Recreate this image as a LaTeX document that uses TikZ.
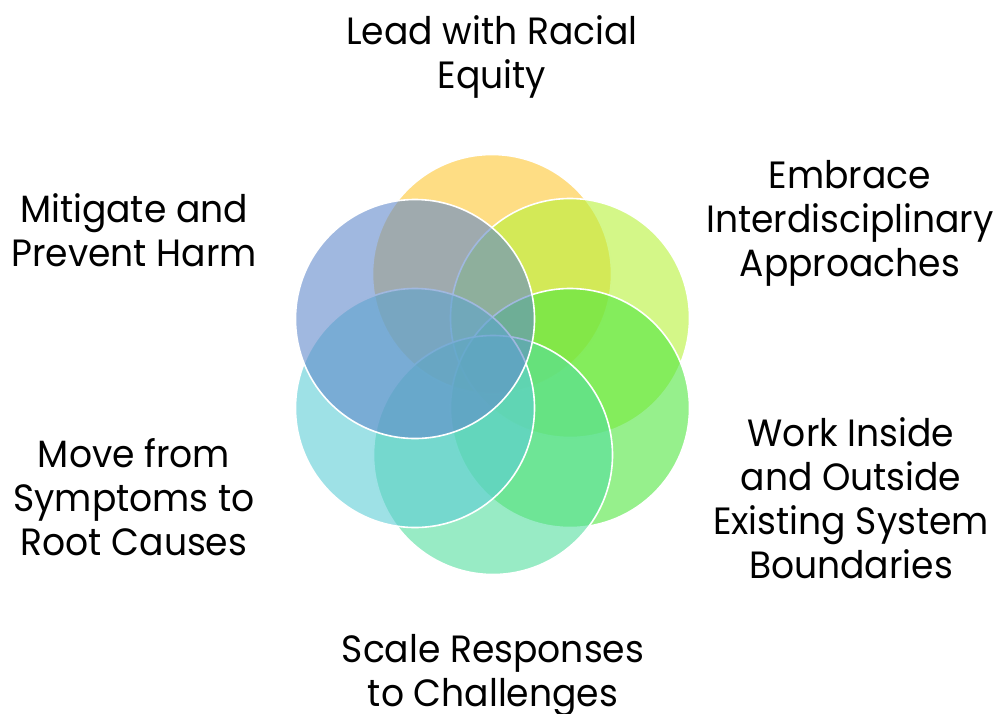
\documentclass[tikz,border=0pt]{standalone}
\usepackage{fontspec}
\setmainfont{Poppins}[FakeStretch=0.95]
\definecolor{cYel}{RGB}{253,198,50}
\definecolor{cLime}{RGB}{183,242,57}
\definecolor{cGreen}{RGB}{80,230,63}
\definecolor{cMint}{RGB}{83,222,158}
\definecolor{cCyan}{RGB}{93,205,213}
\definecolor{cBlue}{RGB}{97,137,203}
\begin{document}
\begin{tikzpicture}[x=1pt,y=-1pt,
  petal/.style={circle,minimum size=239pt,inner sep=0pt,draw=white,line width=1.6pt,fill opacity=0.6},
  lbl/.style={align=center,font=\fontsize{38}{44}\selectfont,inner sep=0pt}]
\useasboundingbox (0,0) rectangle (995,713);
\node[petal,fill=cYel]   (p1) at (492,274) {};
\node[petal,fill=cLime]  (p2) at (570,318) {};
\node[petal,fill=cGreen] (p3) at (570,408) {};
\node[petal,fill=cMint]  (p4) at (493,455) {};
\node[petal,fill=cCyan]  (p5) at (415,408) {};
\node[petal,fill=cBlue]  (p6) at (415,319) {};
\node[lbl] (t1) at (492,57) {Lead with Racial\\Equity};
\node[lbl] (t2) at (850,223) {Embrace\\Interdisciplinary\\Approaches};
\node[lbl] (t3) at (851,498) {Work Inside\\and Outside\\Existing System\\Boundaries};
\node[lbl] (t4) at (493,676) {Scale Responses\\to Challenges};
\node[lbl] (t5) at (134,497) {Move from\\Symptoms to\\Root Causes};
\node[lbl] (t6) at (134,230) {Mitigate and\\Prevent Harm};
\end{tikzpicture}
\end{document}
